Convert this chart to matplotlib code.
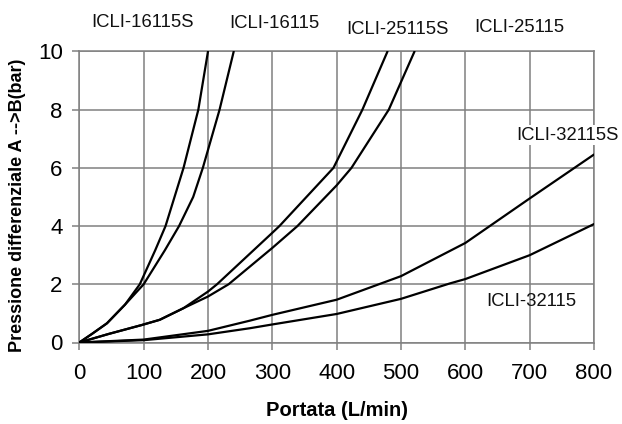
import numpy as np
import matplotlib
matplotlib.use('Agg')
import matplotlib.pyplot as plt

plt.rcParams['font.family'] = ['Liberation Sans', 'DejaVu Sans']

# curves (flow L/min, pressure drop bar)
x_16115s = [0, 20, 43, 71, 94, 118, 134, 162, 185, 200]
y_16115s = [0, 0.3, 0.66, 1.3, 2.0, 3.17, 4.0, 6.0, 8.0, 10.0]

x_16115 = [0, 20, 43, 71, 100, 133, 155, 177, 192, 218, 240]
y_16115 = [0, 0.3, 0.66, 1.3, 2.0, 3.17, 4.0, 5.0, 6.0, 8.0, 10.0]

x_25115s = [0, 45, 97, 125, 162, 200, 214, 300, 311, 395, 440, 479]
y_25115s = [0, 0.29, 0.6, 0.78, 1.18, 1.75, 2.0, 3.77, 4.0, 6.0, 8.0, 10.0]

x_25115 = [0, 45, 97, 125, 162, 200, 232, 300, 339, 400, 423, 481, 500, 521]
y_25115 = [0, 0.29, 0.6, 0.78, 1.18, 1.58, 2.0, 3.25, 4.0, 5.4, 6.0, 8.0, 8.95, 10.0]

x_32115s = [0, 100, 200, 265, 300, 400, 500, 600, 700, 800]
y_32115s = [0, 0.1, 0.4, 0.75, 0.95, 1.47, 2.28, 3.42, 4.95, 6.46]

x_32115 = [0, 100, 200, 265, 300, 400, 500, 576, 600, 700, 800]
y_32115 = [0, 0.08, 0.28, 0.49, 0.62, 0.98, 1.5, 2.03, 2.18, 3.0, 4.07]

curves = [(x_16115s, y_16115s), (x_16115, y_16115),
          (x_25115s, y_25115s), (x_25115, y_25115),
          (x_32115s, y_32115s), (x_32115, y_32115)]

# label text and where it sits (data coords)
labels = [('ICLI-16115S', 99, 10.98, False),
          ('ICLI-16115', 303, 10.95, False),
          ('ICLI-25115S', 495, 10.77, False),
          ('ICLI-25115', 684, 10.83, False),
          ('ICLI-32115S', 758, 7.13, True),
          ('ICLI-32115', 702, 1.40, False)]

grid_col = '#808080'

fig = plt.figure(figsize=(6.22, 4.24), dpi=100)
ax = fig.add_axes([79.3 / 622, (424 - 342.5) / 424, (594 - 79.3) / 622, (342.5 - 51.5) / 424])

for xs, ys in curves:
    ax.plot(xs, ys, color='black', lw=1.6, zorder=3,
            solid_joinstyle='round', solid_capstyle='round')

ax.set_xlim(0, 800)
ax.set_ylim(0, 10)
ax.set_xticks(np.arange(0, 801, 100))
ax.set_yticks(np.arange(0, 11, 2))
ax.grid(True, color=grid_col, lw=1.1)
for s in ax.spines.values():
    s.set_color(grid_col)
    s.set_linewidth(1.1)
ax.tick_params(direction='out', length=5, width=1.1, color=grid_col, labelsize=16)
ax.tick_params(axis='x', pad=10)
ax.tick_params(axis='y', pad=7)

for txt, lx, ly, boxed in labels:
    t = ax.text(lx, ly, txt, ha='center', va='center', fontsize=13.3,
                color='#111111', clip_on=False, zorder=4)
    if boxed:
        t.set_bbox(dict(facecolor='white', edgecolor='none', pad=1))

fig.text(337 / 622, 1 - 411 / 424, 'Portata (L/min)', ha='center', va='center',
         fontsize=14.5, fontweight='bold')
fig.text(18 / 622, 1 - 205 / 424, 'Pressione differenziale A -->B(bar)', ha='center',
         va='center', rotation=90, fontsize=13, fontweight='bold')

fig.savefig('out.png', dpi=100)
